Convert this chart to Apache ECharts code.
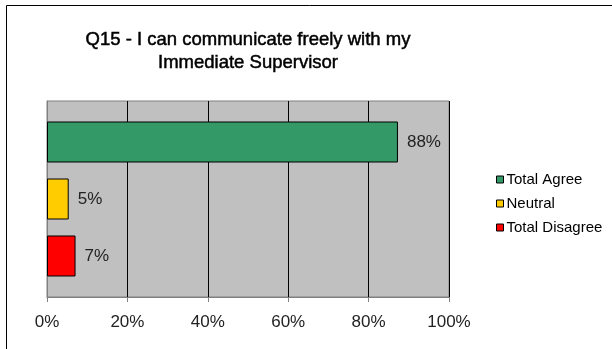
<!DOCTYPE html>
<html><head><meta charset="utf-8">
<script src="https://cdn.jsdelivr.net/npm/echarts@6/dist/echarts.min.js"></script>
<style>html,body{margin:0;padding:0;background:#fff}#c{width:612px;height:349px}</style>
</head><body><div id="c"></div>
<script>
var titleText = "Q15 - I can communicate freely with my\nImmediate Supervisor";
var categories = ["Q15"];
var seriesNames = ["Total Agree", "Neutral", "Total Disagree"];
var seriesValues = [87.3, 5.4, 7.1];
var seriesLabels = ["88%", "5%", "7%"];
var seriesColors = ["#339966", "#FFCC00", "#FF0000"];
var xTicks = [0, 20, 40, 60, 80, 100];

var FONT = 'Liberation Sans, Arial, sans-serif';
var chart = echarts.init(document.getElementById('c'), null, {renderer: 'canvas'});
var series = seriesNames.map(function (n, i) {
  return {
    name: n, type: 'bar', data: [seriesValues[i]],
    barWidth: 41, barGap: '39%',
    itemStyle: {color: seriesColors[i], borderColor: '#000', borderWidth: 1},
    label: {show: true, position: 'right', distance: 9, formatter: function () { return seriesLabels[i]; },
      fontFamily: FONT, fontSize: 17, color: '#222'}
  };
});
chart.setOption({
  animation: false,
  title: {text: titleText, left: 243, top: 23, textAlign: 'center',
    textStyle: {fontFamily: FONT, fontSize: 18.5, fontWeight: 'normal', color: '#000', lineHeight: 23,
      textBorderColor: '#000', textBorderWidth: 0.5}},
  grid: {left: 47, right: 163, top: 101, bottom: 52, show: true, backgroundColor: '#C0C0C0', borderColor: '#808080', borderWidth: 1},
  legend: {orient: 'vertical', left: 491, top: 167, itemWidth: 7, itemHeight: 7, itemGap: 9,
    icon: 'rect', data: seriesNames,
    itemStyle: {borderColor: '#000', borderWidth: 1},
    textStyle: {fontFamily: FONT, fontSize: 15, lineHeight: 15, color: '#000', padding: [0, 0, 0, -2]}},
  xAxis: {type: 'value', min: xTicks[0], max: xTicks[xTicks.length - 1], interval: 20,
    axisLine: {show: true, lineStyle: {color: '#808080'}},
    axisTick: {show: true, length: 5, lineStyle: {color: '#808080'}},
    axisLabel: {formatter: function (v) { return v + '%'; }, margin: 17,
      fontFamily: FONT, fontSize: 17, color: '#222'},
    splitLine: {show: true, lineStyle: {color: '#000', width: 1}}},
  yAxis: {type: 'category', data: categories, inverse: true,
    axisLine: {show: true, lineStyle: {color: '#808080'}}, axisTick: {show: false}, axisLabel: {show: false}},
  series: series,
  graphic: [
    {type: 'line', shape: {x1: 6.5, y1: 5.5, x2: 6.5, y2: 349}, style: {stroke: '#000', lineWidth: 1}},
    {type: 'line', shape: {x1: 6.5, y1: 5.5, x2: 612, y2: 5.5}, style: {stroke: '#000', lineWidth: 1}}
  ]
});
</script></body></html>
